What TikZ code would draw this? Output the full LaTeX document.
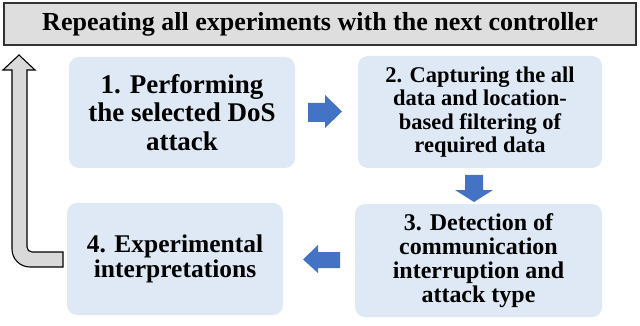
\documentclass[tikz,border=0pt]{standalone}
\usepackage{fontspec}
\setmainfont{Liberation Serif}
\begin{document}
\begin{tikzpicture}[x=1pt,y=-1pt,
  stepbox/.style={draw=none,fill=boxblue,rounded corners=10pt,align=center,inner sep=0pt,font=\bfseries},
  bluearrow/.style={fill=arrowblue,draw=none},
  grayarrow/.style={fill=arrowgray,draw=black,line width=1.1pt,line join=miter},
  titlebox/.style={draw=titleborder,fill=titlegray,line width=1.1pt,inner sep=0pt,font=\bfseries\fontsize{26}{28}\selectfont}]
\definecolor{boxblue}{RGB}{222,233,245}
\definecolor{arrowblue}{RGB}{68,114,196}
\definecolor{arrowgray}{RGB}{217,217,217}
\definecolor{titlegray}{RGB}{222,222,222}
\definecolor{titleborder}{RGB}{50,50,50}
\useasboundingbox (0,0) rectangle (640,326);
\node[titlebox,minimum width=632pt,minimum height=42pt] (title) at (320,24) {Repeating all experiments with the next controller};
\node[stepbox,minimum width=226pt,minimum height=111pt,font=\bfseries\fontsize{27}{28.5}\selectfont] (s1) at (182,112.5) {1. Performing\\the selected DoS\\attack};
\node[stepbox,minimum width=244pt,minimum height=112pt,font=\bfseries\fontsize{22.5}{23.5}\selectfont] (s2) at (480,112) {2. Capturing the all\\data and location-\\based filtering of\\required data};
\node[stepbox,minimum width=247pt,minimum height=113pt,font=\bfseries\fontsize{24}{24}\selectfont] (s3) at (478.5,260.5) {3. Detection of\\communication\\interruption and\\attack type};
\node[stepbox,minimum width=216pt,minimum height=112pt,font=\bfseries\fontsize{25.5}{25}\selectfont] (s4) at (175,259) {4. Experimental\\interpretations};
% block arrows between steps
\fill[bluearrow] (308,103) -- (325,103) -- (325,95) -- (342,111.5) -- (325,128) -- (325,122) -- (308,122) -- cycle;
\fill[bluearrow] (465,175) -- (483,175) -- (483,190) -- (493,190) -- (474,202) -- (455,190) -- (465,190) -- cycle;
\fill[bluearrow] (340,252) -- (318,252) -- (318,245) -- (303,259.5) -- (318,273) -- (318,268) -- (340,268) -- cycle;
% return arrow
\draw[grayarrow] (63,252) -- (32,252) .. controls (29.2,252) and (27,249.8) .. (27,247) -- (27,70) -- (35,70) -- (19,55) -- (3,70) -- (12,70) -- (12,249) .. controls (12,259) and (20,267) .. (30,267) -- (63,267) -- cycle;
\end{tikzpicture}
\end{document}
